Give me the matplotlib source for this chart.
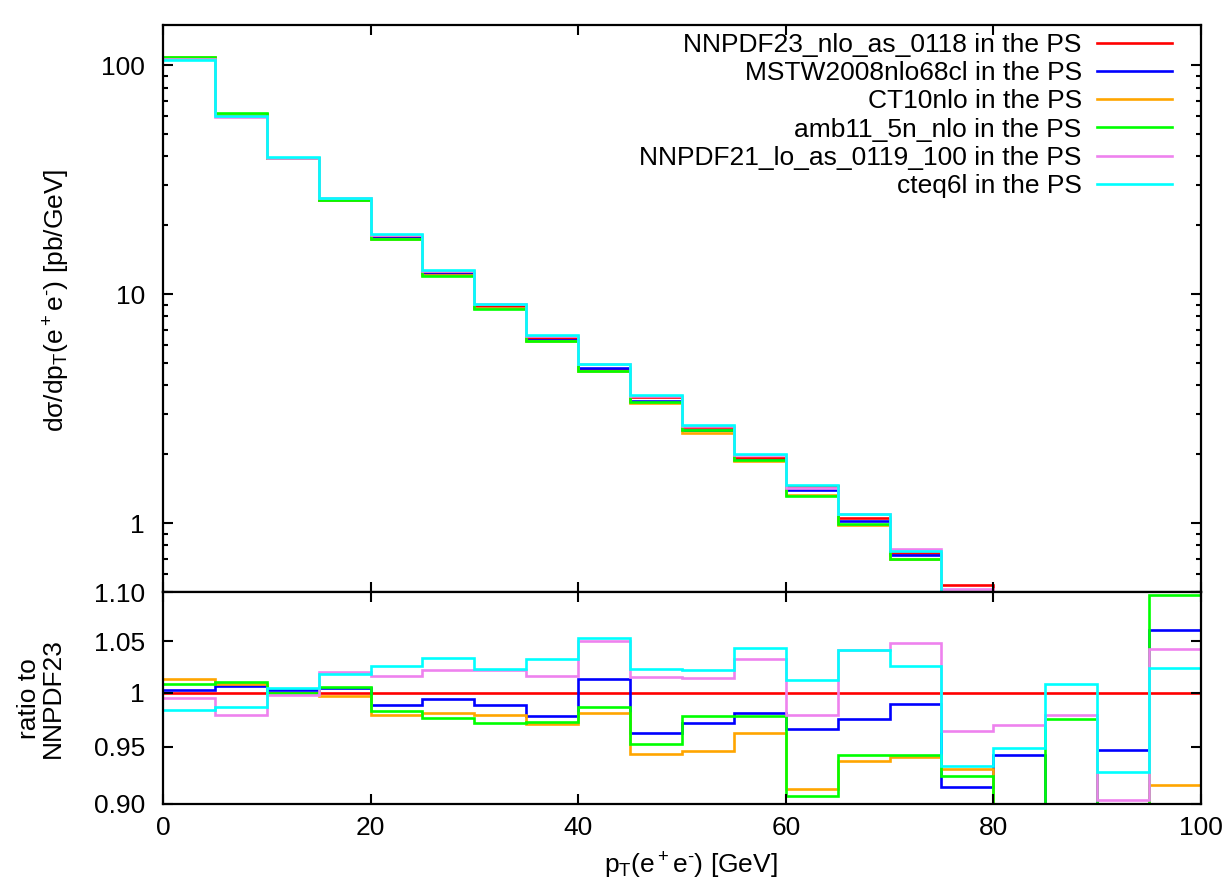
import numpy as np
import matplotlib
matplotlib.use("Agg")
import matplotlib.pyplot as plt
from matplotlib.ticker import FixedLocator, FixedFormatter, NullFormatter, NullLocator, LogLocator

plt.rcParams['font.family'] = ['Liberation Sans', 'DejaVu Sans']
plt.rcParams['mathtext.fontset'] = 'custom'
plt.rcParams['mathtext.rm'] = 'Liberation Sans'
plt.rcParams['mathtext.it'] = 'Liberation Sans'

# bin edges in pT [GeV]
edges = np.arange(0, 105, 5)

# NNPDF23 spectrum [pb/GeV]
nnpdf23 = [107.5, 61.0, 39.4, 25.8, 17.8, 12.35, 8.85, 6.45, 4.7, 3.55,
           2.62, 1.93, 1.45, 1.05, 0.737, 0.536, 0.39, 0.28, 0.20, 0.145]

# ratios to NNPDF23
r_nnpdf23 = [1.0] * 20
r_mstw = [1.003, 1.006, 1.003, 1.004, 0.988, 0.994, 0.988, 0.978, 1.013, 0.963,
          0.972, 0.981, 0.966, 0.975, 0.989, 0.915, 0.943, 0.89, 0.947, 1.061]
r_ct10 = [1.013, 1.008, 0.999, 0.997, 0.979, 0.981, 0.979, 0.971, 0.981, 0.944,
          0.946, 0.963, 0.913, 0.937, 0.941, 0.930, 0.87, 0.88, 0.86, 0.916]
r_amb11 = [1.008, 1.010, 1.000, 1.005, 0.983, 0.976, 0.972, 0.973, 0.987, 0.953,
           0.978, 0.978, 0.907, 0.943, 0.943, 0.924, 0.88, 0.975, 0.87, 1.097]
r_nnpdf21 = [0.995, 0.979, 0.998, 1.020, 1.016, 1.022, 1.022, 1.016, 1.050, 1.015,
             1.014, 1.032, 0.979, 1.041, 1.048, 0.964, 0.970, 0.979, 0.903, 1.042]
r_cteq6l = [0.984, 0.987, 1.0045, 1.0175, 1.026, 1.033, 1.023, 1.032, 1.053, 1.023,
            1.022, 1.043, 1.012, 1.041, 1.026, 0.933, 0.949, 1.008, 0.928, 1.024]

labels = ["NNPDF23_nlo_as_0118 in the PS", "MSTW2008nlo68cl in the PS",
          "CT10nlo in the PS", "amb11_5n_nlo in the PS",
          "NNPDF21_lo_as_0119_100 in the PS", "cteq6l in the PS"]
ratios = [r_nnpdf23, r_mstw, r_ct10, r_amb11, r_nnpdf21, r_cteq6l]
colors = ["#ff0000", "#0000ff", "#ffa500", "#00ff00", "#ee82ee", "#00ffff"]

fs = 19
lw = 1.9

fig = plt.figure(figsize=(12.32, 8.94), dpi=100)
ax1 = fig.add_axes([0.1323, 0.3378, 0.8425, 0.6342])
ax2 = fig.add_axes([0.1323, 0.1007, 0.8425, 0.2371])

ref = np.array(nnpdf23)
for lab, r, c in zip(labels, ratios, colors):
    r = np.array(r)
    ax1.stairs(ref * r, edges, baseline=None, color=c, lw=lw, label=lab)
    ax2.stairs(r, edges, baseline=None, color=c, lw=lw)

for ax in (ax1, ax2):
    ax.set_xlim(0, 100)
    ax.set_yscale('log')
    ax.xaxis.set_major_locator(FixedLocator([0, 20, 40, 60, 80, 100]))
    ax.xaxis.set_minor_locator(NullLocator())
    ax.tick_params(which='both', direction='in', top=True, right=True, width=1.5)
    ax.tick_params(which='major', length=7.5, labelsize=fs, pad=13)
    ax.tick_params(which='minor', length=3.8)
    for s in ax.spines.values():
        s.set_linewidth(1.6)

ax1.set_ylim(0.5, 150)
ax1.yaxis.set_major_locator(FixedLocator([1, 10, 100]))
ax1.yaxis.set_major_formatter(FixedFormatter(["1", "10", "100"]))
ax1.yaxis.set_minor_locator(LogLocator(base=10, subs=np.arange(2, 10)))
ax1.yaxis.set_minor_formatter(NullFormatter())
ax1.tick_params(axis='x', labelbottom=False)

ax2.set_ylim(0.9, 1.1)
ax2.yaxis.set_major_locator(FixedLocator([0.9, 0.95, 1.0, 1.05, 1.1]))
ax2.yaxis.set_major_formatter(FixedFormatter(["0.90", "0.95", "1", "1.05", "1.10"]))
ax2.yaxis.set_minor_locator(NullLocator())
ax2.yaxis.set_minor_formatter(NullFormatter())
ax2.tick_params(axis='x', pad=9)

ax1.legend(loc='upper right', bbox_to_anchor=(0.972, 0.986), frameon=False,
           markerfirst=False, fontsize=fs, handlelength=2.85, handletextpad=0.57,
           labelspacing=0.16, borderpad=0, borderaxespad=0)

fig.text(0.0463, 0.664, r"d$\sigma$/dp$_\mathrm{T}$(e$^+$e$^{\text{-}}$) [pb/GeV]",
         rotation=90, ha='center', va='center', fontsize=fs)
fig.text(0.033, 0.219, "ratio to\nNNPDF23", rotation=90, ha='center', va='center',
         fontsize=fs, multialignment='center', linespacing=1.0)
fig.text(691 / 1232, 1 - 866 / 894, r"p$_\mathrm{T}$(e$^+$e$^{\text{-}}$) [GeV]",
         ha='center', va='center', fontsize=fs)

fig.savefig("out.png", dpi=100)
